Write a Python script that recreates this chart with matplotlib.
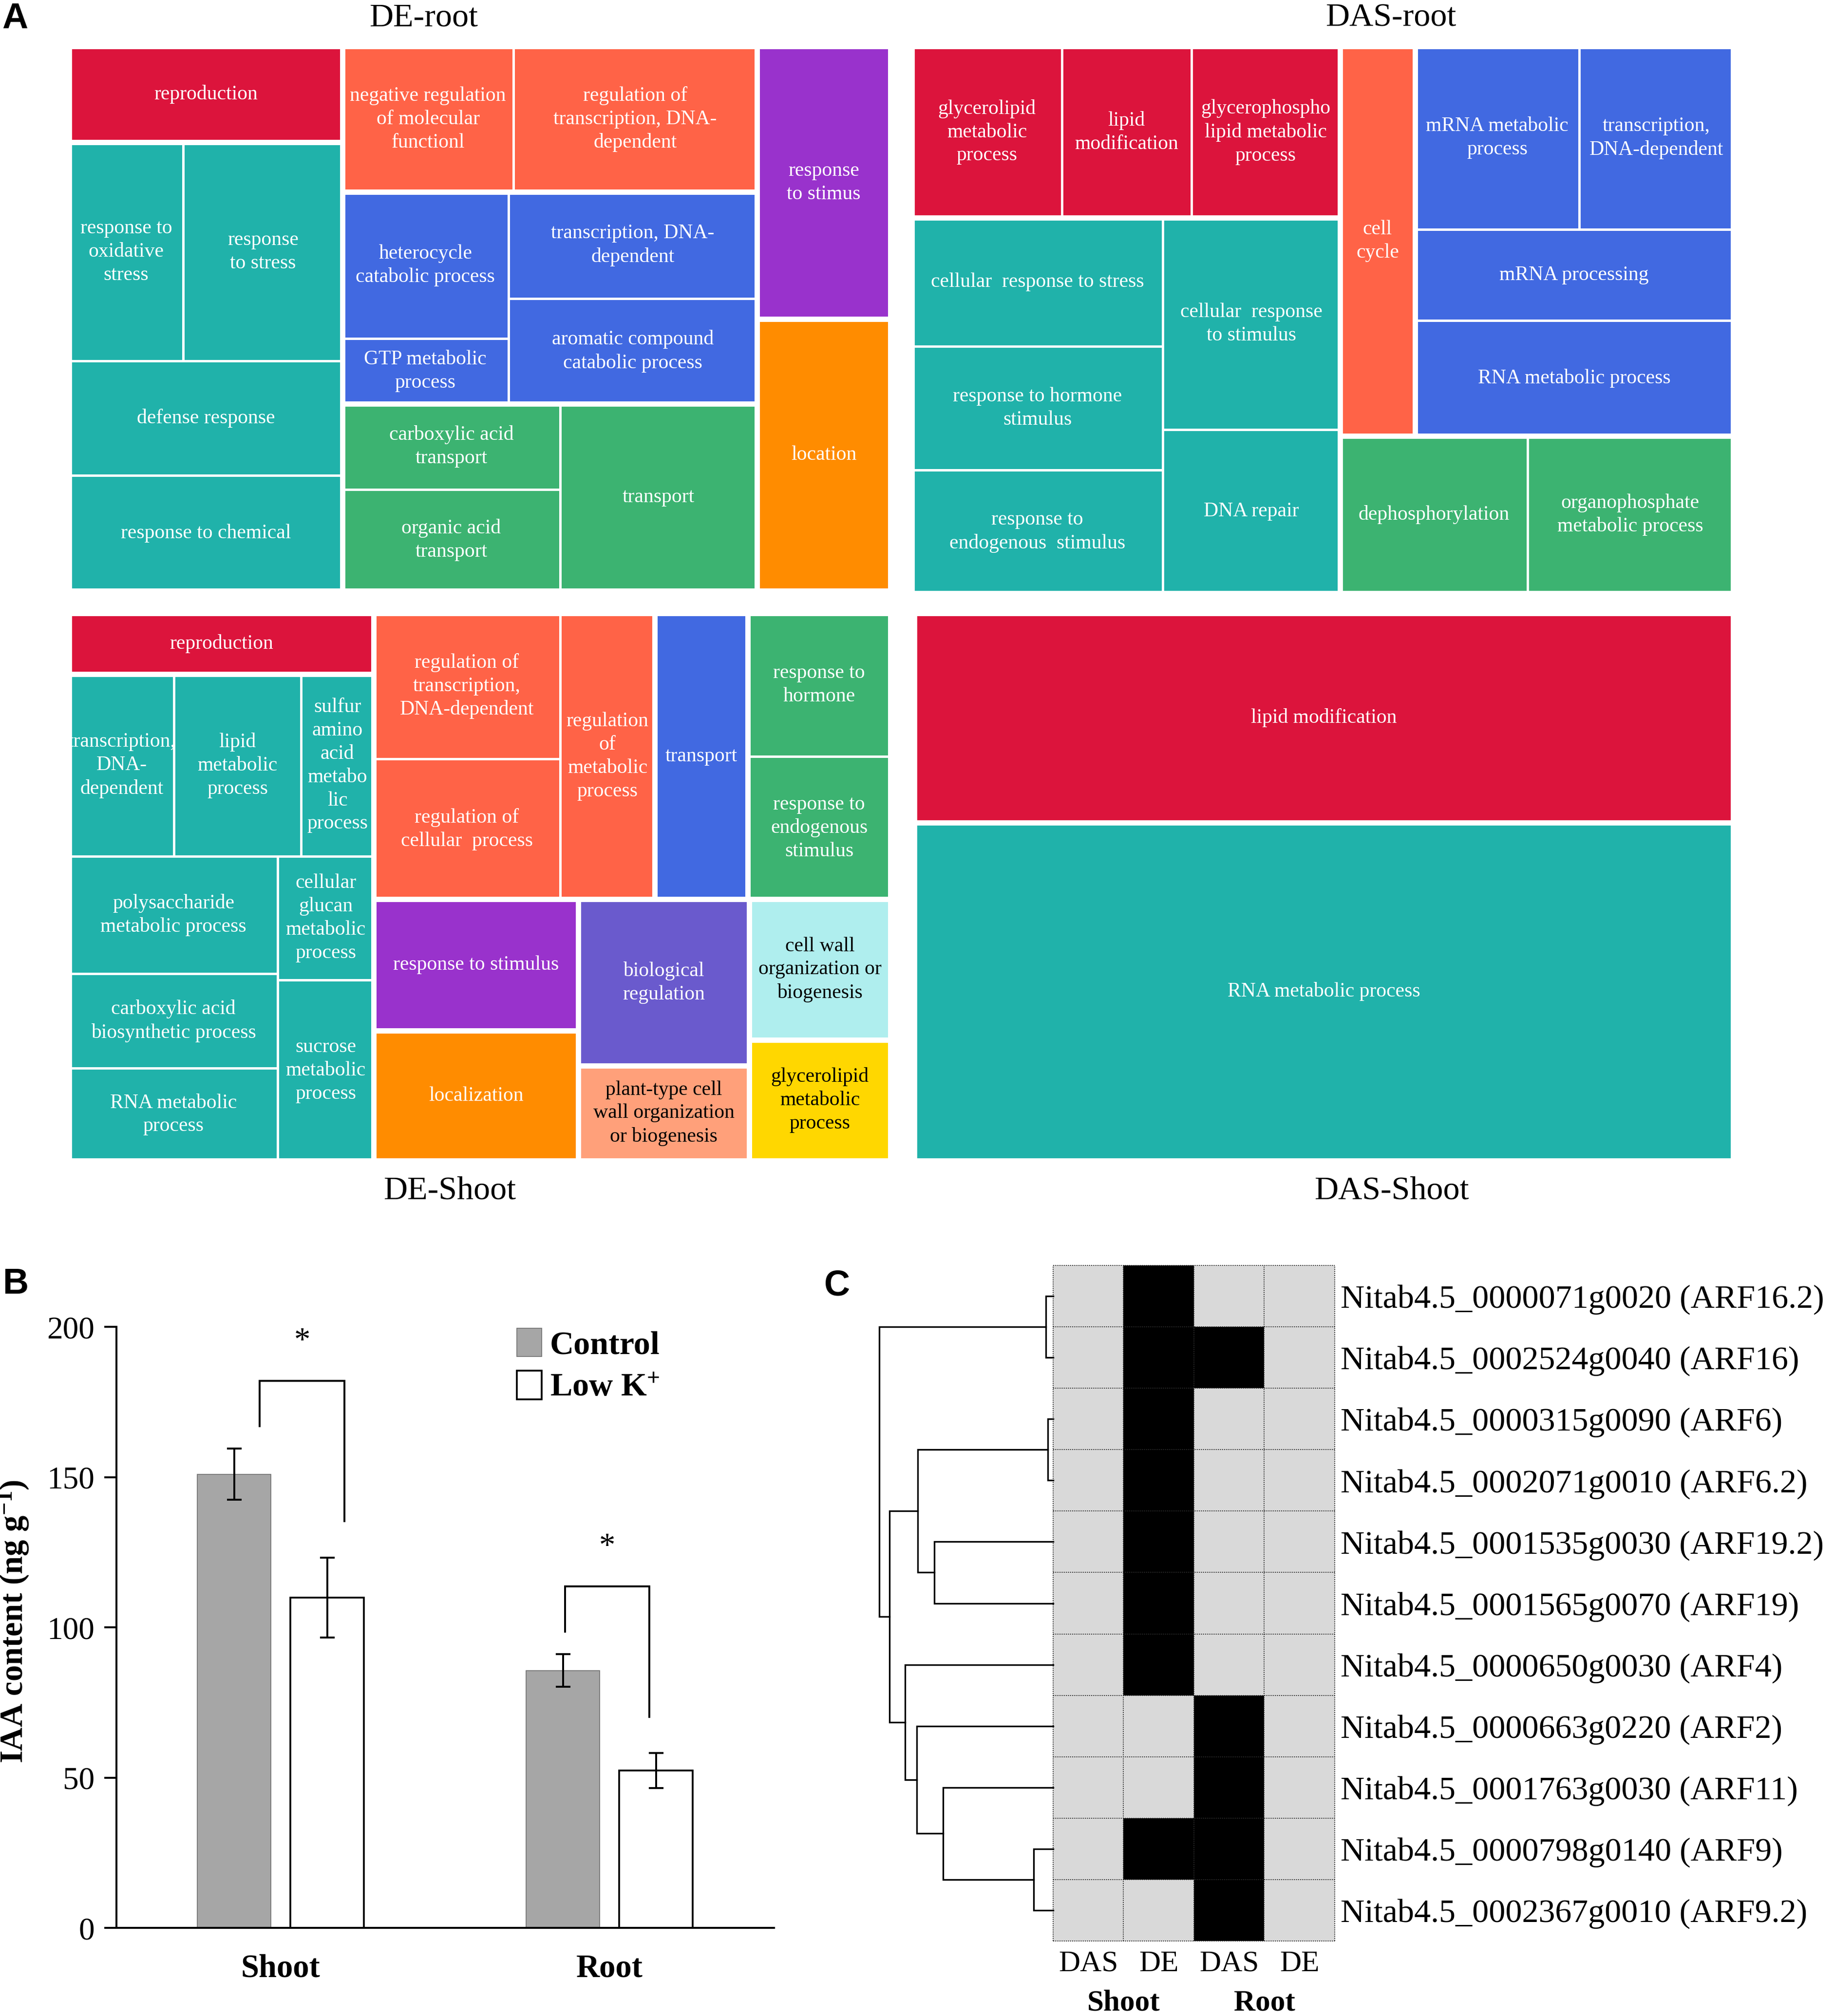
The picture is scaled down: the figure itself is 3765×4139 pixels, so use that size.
import matplotlib
matplotlib.use('Agg')
import matplotlib.pyplot as plt
from matplotlib.patches import Rectangle
from matplotlib.colors import ListedColormap
from matplotlib import transforms
import numpy as np

plt.rcParams['font.family'] = ['Liberation Serif', 'DejaVu Serif']
plt.rcParams['mathtext.fontset'] = 'custom'
plt.rcParams['mathtext.rm'] = 'Liberation Serif'
plt.rcParams['mathtext.bf'] = 'Liberation Serif:bold'
plt.rcParams['mathtext.default'] = 'regular'

# ---------------------------------------------------------------- colours
CRIMSON, TOMATO, ROYAL, ORCHID = '#DC143C', '#FF6347', '#4169E1', '#9932CC'
DORANGE, TEAL, GREEN, SLATE = '#FF8C00', '#20B2AA', '#3CB371', '#6A5ACD'
SALMON, PTURQ, GOLD = '#FFA07A', '#AFEEEE', '#FFD700'
DARK_TEXT = {SALMON, PTURQ, GOLD}

# ---------------------------------------------------------------- treemap data
de_root_terms = ["reproduction", "response to\noxidative\nstress", "response\nto stress",
                 "defense response", "response to chemical",
                 "negative regulation\nof molecular\nfunctionl", "regulation of\ntranscription, DNA-\ndependent",
                 "heterocycle\ncatabolic process", "GTP metabolic\nprocess",
                 "transcription, DNA-\ndependent", "aromatic compound\ncatabolic process",
                 "carboxylic acid\ntransport", "organic acid\ntransport", "transport",
                 "response\nto stimus", "location"]
de_root_sizes = [15614, 14784, 20664, 18568, 18779, 14784, 21056, 14464, 6400,
                 15744, 15552, 11088, 13104, 21888, 21630, 21527]
de_root_colors = [CRIMSON, TEAL, TEAL, TEAL, TEAL, TOMATO, TOMATO, ROYAL, ROYAL,
                  ROYAL, ROYAL, GREEN, GREEN, GREEN, ORCHID, DORANGE]
de_root_tree = ('h', [('v', [0, ('v', [('h', [1, 2]), 3, 4])]),
                      ('v', [('h', [5, 6]),
                             ('h', [('v', [7, 8]), ('v', [9, 10])]),
                             ('h', [('v', [11, 12]), 13])]),
                      ('v', [14, 15])])

das_root_terms = ["glycerolipid\nmetabolic\nprocess", "lipid\nmodification",
                  "glycerophospho\nlipid metabolic\nprocess",
                  "cellular  response to stress", "response to hormone\nstimulus",
                  "response to\nendogenous  stimulus", "cellular  response\nto stimulus", "DNA repair",
                  "cell\ncycle", "mRNA metabolic\nprocess", "transcription,\nDNA-dependent",
                  "mRNA processing", "RNA metabolic process",
                  "dephosphorylation", "organophosphate\nmetabolic process"]
das_root_sizes = [15312, 13200, 15180, 19206, 18430, 18430, 22331, 17262,
                  17400, 17907, 16779, 17220, 21894, 17545, 19239]
das_root_colors = [CRIMSON, CRIMSON, CRIMSON, TEAL, TEAL, TEAL, TEAL, TEAL,
                   TOMATO, ROYAL, ROYAL, ROYAL, ROYAL, GREEN, GREEN]
das_root_tree = ('h', [('v', [('h', [0, 1, 2]), ('h', [('v', [3, 4, 5]), ('v', [6, 7])])]),
                       ('v', [('h', [8, ('v', [('h', [9, 10]), 11, 12])]), ('h', [13, 14])])])

de_shoot_terms = ["reproduction", "transcription,\nDNA-\ndependent", "lipid\nmetabolic\nprocess",
                  "sulfur\namino\nacid\nmetabo\nlic\nprocess",
                  "polysaccharide\nmetabolic process", "carboxylic acid\nbiosynthetic process",
                  "RNA metabolic\nprocess", "cellular\nglucan\nmetabolic\nprocess",
                  "sucrose\nmetabolic\nprocess",
                  "regulation of\ntranscription,\nDNA-dependent", "regulation of\ncellular  process",
                  "regulation\nof\nmetabolic\nprocess", "transport",
                  "response to\nhormone", "response to\nendogenous\nstimulus",
                  "response to stimulus", "localization", "biological\nregulation",
                  "plant-type cell\nwall organization\nor biogenesis",
                  "cell wall\norganization or\nbiogenesis", "glycerolipid\nmetabolic\nprocess"]
de_shoot_sizes = [11045, 11340, 13720, 7840, 14490, 11753, 11431, 7030, 10286,
                  16128, 15552, 16060, 15840, 12100, 12100,
                  15958, 15800, 16896, 9636, 11772, 10137]
de_shoot_colors = [CRIMSON, TEAL, TEAL, TEAL, TEAL, TEAL, TEAL, TEAL, TEAL,
                   TOMATO, TOMATO, TOMATO, ROYAL, GREEN, GREEN,
                   ORCHID, DORANGE, SLATE, SALMON, PTURQ, GOLD]
de_shoot_tree = ('h', [('v', [0, ('v', [('h', [1, 2, 3]), ('h', [('v', [4, 5, 6]), ('v', [7, 8])])])]),
                       ('v', [('h', [('h', [('v', [9, 10]), 11]), 12, ('v', [13, 14])]),
                              ('h', [('v', [15, 16]), ('v', [17, 18]), ('v', [19, 20])])])])

das_shoot_terms = ["lipid modification", "RNA metabolic process"]
das_shoot_sizes = [101913, 164580]
das_shoot_colors = [CRIMSON, TEAL]
das_shoot_tree = ('v', [0, 1])

# ---------------------------------------------------------------- panel B data
tissues = ["Shoot", "Root"]
control_mean = [151.0, 85.7]
control_err = [8.5, 5.4]
lowk_mean = [110.0, 52.4]
lowk_err = [13.3, 5.8]
bracket_dx_left = [0.078, 0.006]
bracket_dx_right = [0.053, -0.02]

# ---------------------------------------------------------------- panel C data
genes = ["Nitab4.5_0000071g0020 (ARF16.2)", "Nitab4.5_0002524g0040 (ARF16)",
         "Nitab4.5_0000315g0090 (ARF6)", "Nitab4.5_0002071g0010 (ARF6.2)",
         "Nitab4.5_0001535g0030 (ARF19.2)", "Nitab4.5_0001565g0070 (ARF19)",
         "Nitab4.5_0000650g0030 (ARF4)", "Nitab4.5_0000663g0220 (ARF2)",
         "Nitab4.5_0001763g0030 (ARF11)", "Nitab4.5_0000798g0140 (ARF9)",
         "Nitab4.5_0002367g0010 (ARF9.2)"]
conditions = ["DAS", "DE", "DAS", "DE"]
condition_tissue = ["Shoot", "Root"]
membership = [[0, 1, 0, 0], [0, 1, 1, 0], [0, 1, 0, 0], [0, 1, 0, 0], [0, 1, 0, 0],
              [0, 1, 0, 0], [0, 1, 0, 0], [0, 0, 1, 0], [0, 0, 1, 0], [0, 1, 1, 0],
              [0, 0, 1, 0]]
# linkage: (child_a, child_b, height); new cluster ids start at 11
linkage = [(0, 1, 15), (2, 3, 11), (4, 5, 244), (12, 13, 278), (9, 10, 40),
           (8, 15, 226), (7, 16, 280), (6, 17, 304), (14, 18, 336), (11, 19, 357)]

# ---------------------------------------------------------------- figure
W_PX, H_PX = 3766, 4139
fig = plt.figure(figsize=(W_PX / 100, H_PX / 100), dpi=100)


def fax(x0, y0, x1, y1):
    return fig.add_axes([x0 / W_PX, 1 - y1 / H_PX, (x1 - x0) / W_PX, (y1 - y0) / H_PX])


def ftext(x, y, s, **kw):
    return fig.text(x / W_PX, 1 - y / H_PX, s, **kw)


def draw_treemap(ax, tree, terms, sizes, colors, fs=30):
    ax.set_xlim(0, 1)
    ax.set_ylim(1, 0)
    ax.axis('off')
    nodes = []

    def total(n):
        return sizes[n] if isinstance(n, int) else sum(total(c) for c in n[1])

    def groups(n):
        return {colors[n]} if isinstance(n, int) else set().union(*[groups(c) for c in n[1]])

    def place(n, x0, y0, x1, y1, pg):
        g = groups(n)
        nodes.append(((x0, y0, x1, y1), g, pg, n))
        if isinstance(n, int):
            return
        o, ch = n
        tots = [total(c) for c in ch]
        s = sum(tots)
        p = x0 if o == 'h' else y0
        for c, t in zip(ch, tots):
            if o == 'h':
                q = p + (x1 - x0) * t / s
                place(c, p, y0, q, y1, g)
            else:
                q = p + (y1 - y0) * t / s
                place(c, x0, p, x1, q, g)
            p = q

    place(tree, 0, 0, 1, 1, set(colors))
    for (x0, y0, x1, y1), g, pg, n in nodes:
        if isinstance(n, int):
            ax.add_patch(Rectangle((x0, y0), x1 - x0, y1 - y0, facecolor=colors[n],
                                   edgecolor='white', linewidth=3.6, zorder=1))
            ax.text((x0 + x1) / 2, (y0 + y1) / 2, terms[n], ha='center', va='center',
                    multialignment='center', fontsize=fs, linespacing=1.32,
                    color='black' if colors[n] in DARK_TEXT else 'white', zorder=4)
    for (x0, y0, x1, y1), g, pg, n in nodes:
        if len(g) > 1 or len(pg) > 1:
            ax.add_patch(Rectangle((x0, y0), x1 - x0, y1 - y0, facecolor='none',
                                   edgecolor='white', linewidth=7.9, zorder=2))


draw_treemap(fax(142, 95, 1828, 1213), de_root_tree, de_root_terms, de_root_sizes, de_root_colors)
draw_treemap(fax(1872, 95, 3558, 1218), das_root_tree, das_root_terms, das_root_sizes, das_root_colors)
draw_treemap(fax(142, 1259, 1828, 2383), de_shoot_tree, de_shoot_terms, de_shoot_sizes, de_shoot_colors)
draw_treemap(fax(1877, 1259, 3558, 2383), das_shoot_tree, das_shoot_terms, das_shoot_sizes, das_shoot_colors)

ftext(870, 54, "DE-root", ha='center', va='baseline', fontsize=49)
ftext(2855, 54, "DAS-root", ha='center', va='baseline', fontsize=49)
ftext(923, 2462, "DE-Shoot", ha='center', va='baseline', fontsize=49)
ftext(2857, 2462, "DAS-Shoot", ha='center', va='baseline', fontsize=49)

for lx, ly, letter in [(4, 58, "A"), (5, 2656, "B"), (1692, 2659, "C")]:
    ftext(lx, ly, letter, ha='left', va='baseline', fontsize=53, fontweight='bold',
          family='Liberation Sans')

# ---------------------------------------------------------------- panel B
axb = fax(238.6, 2724.3, 1589, 3958.3)
xb = np.arange(len(tissues))
bw, off = 0.2235, 0.1414
ekw = dict(ecolor='black', elinewidth=2.8, capsize=11, capthick=2.8)
bc = axb.bar(xb - off, control_mean, bw, yerr=control_err, color='#A6A6A6',
             edgecolor='#6e6e6e', linewidth=1.2, label='Control', error_kw=ekw, zorder=2)
bl = axb.bar(xb + off, lowk_mean, bw, yerr=lowk_err, color='white', edgecolor='black',
             linewidth=2.6, label=r'Low K$^{+}$', error_kw=ekw, zorder=2)
axb.set_xlim(-0.5, 1.5)
axb.set_ylim(0, 200)
for sp in ['top', 'right']:
    axb.spines[sp].set_visible(False)
for sp in ['left', 'bottom']:
    axb.spines[sp].set_linewidth(2.9)
axb.set_yticks([0, 50, 100, 150, 200])
axb.tick_params(axis='y', direction='out', length=18, width=2.9, pad=14, labelsize=47)
axb.set_xticks(xb)
axb.set_xticklabels(tissues, fontsize=48, fontweight='bold')
axb.tick_params(axis='x', length=0, pad=38)
axb.set_ylabel(r'IAA content (ng g$^{-1}$)', fontsize=48, fontweight='bold')
axb.yaxis.set_label_coords(-0.13, 0.51)
for i in range(len(tissues)):
    yl = control_mean[i] + control_err[i] + 7.5
    top = yl + 15
    yr = lowk_mean[i] + lowk_err[i] + 12
    xl = xb[i] - off + bracket_dx_left[i]
    xr = xb[i] + off + bracket_dx_right[i]
    axb.plot([xl, xl, xr, xr], [yl, top, top, yr], color='black', lw=2.8,
             solid_joinstyle='miter', clip_on=False)
    axb.text((xl + xr) / 2, top + 10.5, '*', ha='center', va='baseline', fontsize=48)
axb.legend(handles=[bc, bl], loc='upper left', bbox_to_anchor=(0.609, 0.998),
           frameon=False, prop=dict(family='Liberation Serif', weight='bold', size=49),
           handlelength=0.75, handleheight=0.95, handletextpad=0.25, labelspacing=0.3,
           borderpad=0, borderaxespad=0)

# ---------------------------------------------------------------- panel C heatmap
axh = fax(2162, 2598, 2740, 3985)
mem = np.array(membership)
axh.pcolormesh(np.arange(mem.shape[1] + 1), np.arange(mem.shape[0] + 1), mem,
               cmap=ListedColormap(['#D9D9D9', 'black']), vmin=0, vmax=1)
axh.set_xlim(0, mem.shape[1])
axh.set_ylim(mem.shape[0], 0)
for sp in axh.spines.values():
    sp.set_visible(False)
for xv in np.arange(mem.shape[1] + 1):
    axh.axvline(xv, color='#2a2a2a', lw=1.3, ls=(0, (1.2, 1.2)), clip_on=False, zorder=3)
for yv in np.arange(mem.shape[0] + 1):
    axh.axhline(yv, color='#2a2a2a', lw=1.3, ls=(0, (1.2, 1.2)), clip_on=False, zorder=3)
axh.yaxis.tick_right()
axh.set_yticks(np.arange(len(genes)) + 0.5)
axh.set_yticklabels(genes)
axh.tick_params(axis='y', length=0, pad=8.6, labelsize=49)
axh.set_xticks(np.arange(len(conditions)) + 0.5)
axh.set_xticklabels(conditions)
axh.tick_params(axis='x', length=0, pad=14, labelsize=44)
tr = transforms.blended_transform_factory(axh.transData, fig.transFigure)
for k, t in enumerate(condition_tissue):
    axh.text(2 * k + 1, 1 - 4112 / H_PX, t, transform=tr, ha='center', va='center',
             fontsize=44, fontweight='bold')

# ---------------------------------------------------------------- panel C dendrogram
axd = fax(1805, 2598, 2162, 3985)
n_leaf = len(genes)
pos = {i: (0.0, i + 0.5) for i in range(n_leaf)}
for k, (a, b, h) in enumerate(linkage):
    ha_, ya = pos[a]
    hb, yb = pos[b]
    axd.plot([ha_, h, h, hb], [ya, ya, yb, yb], color='black', lw=2.4,
             solid_joinstyle='miter', clip_on=False)
    pos[n_leaf + k] = (h, (ya + yb) / 2)
axd.set_xlim(max(l[2] for l in linkage), 0)
axd.set_ylim(n_leaf, 0)
axd.axis('off')

fig.savefig('out.png', dpi=100)
